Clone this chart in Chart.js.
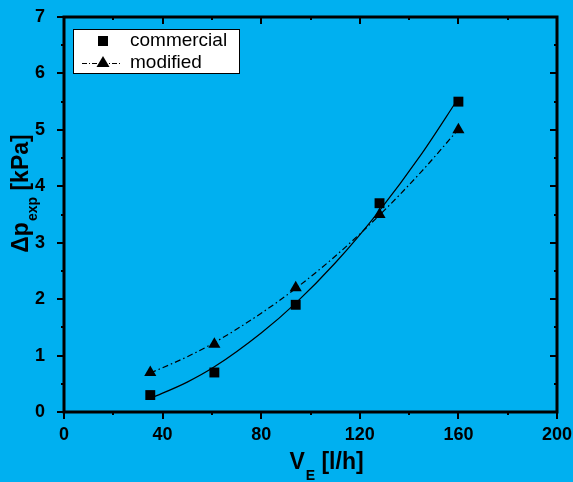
<!DOCTYPE html>
<html>
<head>
<meta charset="utf-8">
<script src="https://cdn.jsdelivr.net/npm/chart.js@4"></script>
<style>
  html, body { margin: 0; padding: 0; background: #00b0f0; }
  #wrap { width: 573px; height: 482px; }
</style>
</head>
<body>
<div id="wrap"><canvas id="myChart" width="573" height="482"></canvas></div>
<script>
// measured points
const flowRate = [ 35, 61, 94, 128, 160 ];
const commercial = [ 0.3, 0.7, 1.9, 3.7, 5.5 ];
const modified = [ 0.7, 1.2, 2.2, 3.5, 5.0 ];

// fitted curves
const fitFlow = [ 35, 50, 61, 80, 94, 110, 128, 145, 160 ];
const commercialFit = [ 0.24, 0.53, 0.80, 1.40, 1.93, 2.64, 3.57, 4.57, 5.56 ];
const modifiedFit = [ 0.69, 0.98, 1.23, 1.75, 2.19, 2.76, 3.49, 4.26, 5.01 ];

const xTicks = [ 0, 40, 80, 120, 160, 200 ];
const yTicks = [ 0, 1, 2, 3, 4, 5, 6, 7 ];
const seriesNames = [ 'commercial', 'modified' ];

const BG = '#00b0f0';
const FONT = '"Liberation Sans", Arial, sans-serif';

const toXY = ( xs, ys ) => xs.map( ( x, i ) => ( { x: x, y: ys[ i ] } ) );

const frame = {
    id: 'frame',
    beforeDraw( chart )
    {
        const c = chart.ctx;
        c.save();
        c.fillStyle = BG;
        c.fillRect( 0, 0, chart.width, chart.height );
        c.restore();
    },
    afterDraw( chart )
    {
        const c = chart.ctx;
        const a = chart.chartArea;
        const xs = chart.scales.x;
        const ys = chart.scales.y;
        c.save();
        c.strokeStyle = '#000';

        // ticks
        c.lineWidth = 2;
        for ( let v = 0; v <= 200; v += 20 )
        {
            const px = Math.round( xs.getPixelForValue( v ) );
            const len = v % 40 === 0 ? 7 : 3;
            c.beginPath();
            c.moveTo( px, a.bottom ); c.lineTo( px, a.bottom + len );
            c.moveTo( px, a.top ); c.lineTo( px, a.top + len );
            c.stroke();
        }
        for ( let v = 0; v <= 7; v += 0.5 )
        {
            const py = Math.round( ys.getPixelForValue( v ) );
            const len = Number.isInteger( v ) ? 7 : 3;
            c.beginPath();
            c.moveTo( a.left, py ); c.lineTo( a.left - len, py );
            c.moveTo( a.right, py ); c.lineTo( a.right - len, py );
            c.stroke();
        }

        // box
        c.lineWidth = 3;
        c.strokeRect( a.left, a.top, a.right - a.left, a.bottom - a.top );

        // legend
        c.lineWidth = 1;
        c.fillStyle = '#fff';
        c.fillRect( 73.5, 29.5, 166, 44 );
        c.strokeRect( 73.5, 29.5, 166, 44 );
        c.fillStyle = '#000';
        c.fillRect( 98, 36, 10, 10 );
        c.beginPath();
        c.setLineDash( [ 5, 2, 1, 2 ] );
        c.moveTo( 82, 63.5 ); c.lineTo( 121, 63.5 );
        c.stroke();
        c.setLineDash( [] );
        c.beginPath();
        c.moveTo( 103, 56 ); c.lineTo( 109.5, 67 ); c.lineTo( 96.5, 67 );
        c.closePath();
        c.fill();
        c.font = '19px ' + FONT;
        c.textBaseline = 'middle';
        c.textAlign = 'left';
        c.fillText( seriesNames[ 0 ], 130, 41 );
        c.fillText( seriesNames[ 1 ], 130, 63 );

        // x title
        c.textBaseline = 'alphabetic';
        const big = 'bold 23px ' + FONT;
        const small = 'bold 14px ' + FONT;
        c.font = big;
        const wV = c.measureText( 'V' ).width;
        const wRest = c.measureText( ' [l/h]' ).width;
        c.font = small;
        const wE = c.measureText( 'E' ).width;
        let x0 = 326 - ( wV + wE + wRest ) / 2;
        c.font = big;
        c.fillText( 'V', x0, 469 );
        c.font = small;
        c.fillText( 'E', x0 + wV + 1, 480 );
        c.font = big;
        c.fillText( ' [l/h]', x0 + wV + wE + 1, 469 );

        // y title
        c.translate( 28, 194 );
        c.rotate( -Math.PI / 2 );
        c.font = big;
        const wD = c.measureText( 'Δp' ).width;
        const wK = c.measureText( ' [kPa]' ).width;
        c.font = small;
        const wX = c.measureText( 'exp' ).width;
        x0 = -( wD + wX + wK ) / 2;
        c.font = big;
        c.fillText( 'Δp', x0, 0 );
        c.font = small;
        c.fillText( 'exp', x0 + wD + 1, 9 );
        c.font = big;
        c.fillText( ' [kPa]', x0 + wD + wX + 1, 0 );
        c.restore();
    }
};

new Chart( document.getElementById( 'myChart' ), {
    type: 'scatter',
    data: {
        datasets: [
            {
                label: seriesNames[ 0 ] + ' fit',
                data: toXY( fitFlow, commercialFit ),
                showLine: true,
                borderColor: '#000',
                borderWidth: 1.2,
                pointRadius: 0,
                cubicInterpolationMode: 'monotone'
            },
            {
                label: seriesNames[ 1 ] + ' fit',
                data: toXY( fitFlow, modifiedFit ),
                showLine: true,
                borderColor: '#000',
                borderWidth: 1.2,
                borderDash: [ 6, 3, 1.5, 3 ],
                pointRadius: 0,
                cubicInterpolationMode: 'monotone'
            },
            {
                label: seriesNames[ 0 ],
                data: toXY( flowRate, commercial ),
                pointStyle: 'rect',
                pointRadius: 7,
                backgroundColor: '#000',
                borderColor: '#000',
                borderWidth: 0
            },
            {
                label: seriesNames[ 1 ],
                data: toXY( flowRate, modified ),
                pointStyle: 'triangle',
                pointRadius: 7,
                backgroundColor: '#000',
                borderColor: '#000',
                borderWidth: 0
            }
        ]
    },
    options: {
        responsive: false,
        animation: false,
        layout: { padding: { top: 17, right: 16, left: 0, bottom: 0 } },
        scales: {
            x: {
                type: 'linear',
                min: 0,
                max: 200,
                afterFit: ( s ) => { s.height = 70; s.paddingLeft = 0; s.paddingRight = 0; },
                afterBuildTicks: ( s ) => { s.ticks = xTicks.map( v => ( { value: v } ) ); },
                grid: { display: false },
                border: { display: false },
                ticks: {
                    autoSkip: false,
                    maxRotation: 0,
                    padding: 4,
                    color: '#000',
                    font: { family: FONT, size: 18, weight: 'bold' }
                }
            },
            y: {
                type: 'linear',
                min: 0,
                max: 7,
                afterFit: ( s ) => { s.width = 64; s.paddingTop = 0; s.paddingBottom = 0; },
                afterBuildTicks: ( s ) => { s.ticks = yTicks.map( v => ( { value: v } ) ); },
                grid: { display: false },
                border: { display: false },
                ticks: {
                    autoSkip: false,
                    padding: 11,
                    color: '#000',
                    font: { family: FONT, size: 18, weight: 'bold' }
                }
            }
        },
        plugins: {
            legend: { display: false },
            tooltip: { enabled: false }
        }
    },
    plugins: [ frame ]
} );
</script>
</body>
</html>
